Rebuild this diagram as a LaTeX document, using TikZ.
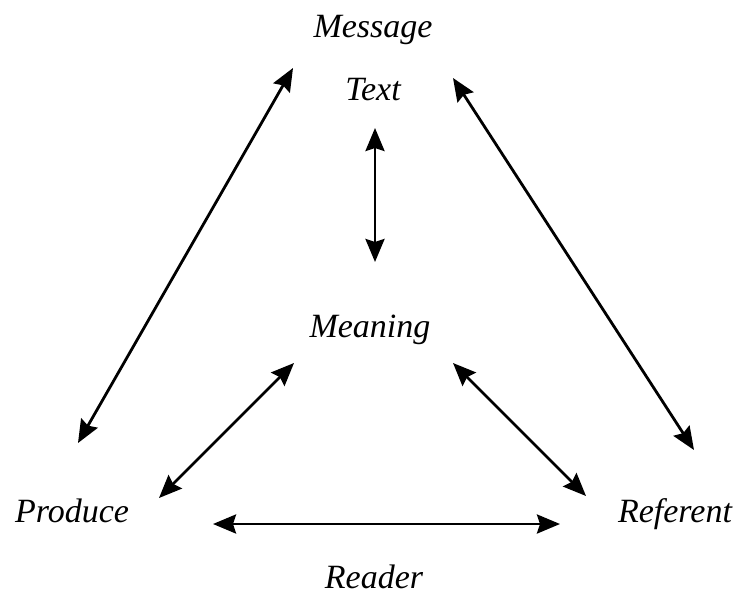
\documentclass[tikz,border=0pt]{standalone}
\usepackage{fontspec}
\setmainfont{Liberation Serif}
\usetikzlibrary{arrows.meta}

\tikzset{
    term/.style={font=\fontsize{34}{40}\selectfont\itshape, inner sep=0pt, anchor=base},
    link/.style={{Stealth[length=23pt, width=19pt, inset=3pt]}-{Stealth[length=23pt, width=19pt, inset=3pt]}, line width=2.8pt}
}

\begin{document}
\begin{tikzpicture}[x=1pt, y=-1pt]
    \useasboundingbox (0,0) rectangle (738,605);

    % termini
    \node[term] (message)  at (373, 37)  {Message};
    \node[term] (text)     at (373, 100) {Text};
    \node[term] (meaning)  at (370, 337) {Meaning};
    \node[term] (produce)  at (72, 522)  {Produce};
    \node[term] (referent) at (675, 522) {Referent};
    \node[term] (reader)   at (374, 588) {Reader};

    % estremi delle frecce
    \coordinate (text-l)     at (293, 68);
    \coordinate (text-r)     at (453, 78);
    \coordinate (text-b)     at (375, 128);
    \coordinate (meaning-t)  at (375, 262);
    \coordinate (meaning-l)  at (294, 363);
    \coordinate (meaning-r)  at (453, 363);
    \coordinate (produce-t)  at (78, 443);
    \coordinate (produce-r)  at (159, 498);
    \coordinate (produce-b)  at (213, 524);
    \coordinate (referent-t) at (694, 450);
    \coordinate (referent-l) at (586, 496);
    \coordinate (referent-b) at (560, 524);

    % frecce
    \draw[link] (produce-t) -- (text-l);
    \draw[link] (text-r) -- (referent-t);
    \draw[link] (text-b) -- (meaning-t);
    \draw[link] (meaning-l) -- (produce-r);
    \draw[link] (meaning-r) -- (referent-l);
    \draw[link] (produce-b) -- (referent-b);
\end{tikzpicture}
\end{document}
